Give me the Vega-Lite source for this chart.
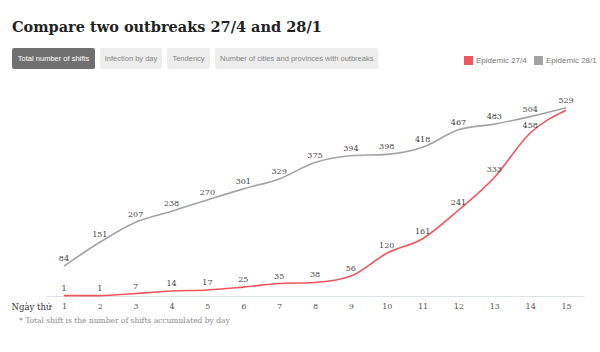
{
  "$schema": "https://vega.github.io/schema/vega-lite/v6.json",
  "background": "white",
  "padding": {"left": 11, "right": 10, "top": 19, "bottom": 10},
  "title": {
    "text": "Compare two outbreaks 27/4 and 28/1",
    "anchor": "start",
    "frame": "group",
    "dx": -34,
    "font": "DejaVu Serif",
    "fontSize": 14.5,
    "fontWeight": "bold",
    "color": "#222222",
    "offset": 13
  },
  "config": {
    "view": {"stroke": null},
    "concat": {"spacing": 27}
  },
  "vconcat": [
    {
      "width": 371,
      "height": 21,
      "data": {
        "values": [
          {"order": 1, "tab": "Total number of shifts", "active": true},
          {"order": 2, "tab": "Infection by day", "active": false},
          {"order": 3, "tab": "Tendency", "active": false},
          {"order": 4, "tab": "Number of cities and provinces with outbreaks", "active": false}
        ]
      },
      "transform": [
        {"calculate": "max(length(datum.tab) * 3.5 + 11, 48)", "as": "w"},
        {"window": [{"op": "sum", "field": "w", "as": "cum"}], "sort": [{"field": "order", "order": "ascending"}], "groupby": [], "frame": [null, 0]},
        {"calculate": "datum.cum - datum.w", "as": "s"},
        {"calculate": "datum.cum - 5", "as": "e"},
        {"calculate": "(datum.s + datum.e) / 2", "as": "m"}
      ],
      "layer": [
        {
          "mark": {"type": "rect", "cornerRadius": 2},
          "encoding": {
            "x": {"field": "s", "type": "quantitative", "scale": {"domain": [34, 405], "nice": false, "zero": false}, "axis": null},
            "x2": {"field": "e"},
            "color": {"condition": {"test": "datum.active", "value": "#707070"}, "value": "#ededed"}
          }
        },
        {
          "mark": {"type": "text", "font": "Liberation Sans", "fontSize": 7.5, "align": "center", "baseline": "middle"},
          "encoding": {
            "x": {"field": "m", "type": "quantitative", "axis": null},
            "text": {"field": "tab", "type": "nominal"},
            "color": {"condition": {"test": "datum.active", "value": "#ffffff"}, "value": "#858585"}
          }
        }
      ]
    },
    {
      "width": 538,
      "height": 200,
      "title": {
        "text": "* Total shift is the number of shifts accumulated by day",
        "orient": "bottom",
        "anchor": "start",
        "frame": "group",
        "dx": -27,
        "offset": 6,
        "font": "DejaVu Serif",
        "fontSize": 7.5,
        "fontWeight": "normal",
        "color": "#8a8a8a"
      },
      "data": {
        "values": [
          {"day": 1, "series": "Epidemic 27/4", "value": 1},
          {"day": 2, "series": "Epidemic 27/4", "value": 1},
          {"day": 3, "series": "Epidemic 27/4", "value": 7},
          {"day": 4, "series": "Epidemic 27/4", "value": 14},
          {"day": 5, "series": "Epidemic 27/4", "value": 17},
          {"day": 6, "series": "Epidemic 27/4", "value": 25},
          {"day": 7, "series": "Epidemic 27/4", "value": 35},
          {"day": 8, "series": "Epidemic 27/4", "value": 38},
          {"day": 9, "series": "Epidemic 27/4", "value": 56},
          {"day": 10, "series": "Epidemic 27/4", "value": 120},
          {"day": 11, "series": "Epidemic 27/4", "value": 161},
          {"day": 12, "series": "Epidemic 27/4", "value": 241},
          {"day": 13, "series": "Epidemic 27/4", "value": 333},
          {"day": 14, "series": "Epidemic 27/4", "value": 458},
          {"day": 15, "series": "Epidemic 27/4", "value": 522},
          {"day": 1, "series": "Epidemic 28/1", "value": 84},
          {"day": 2, "series": "Epidemic 28/1", "value": 151},
          {"day": 3, "series": "Epidemic 28/1", "value": 207},
          {"day": 4, "series": "Epidemic 28/1", "value": 238},
          {"day": 5, "series": "Epidemic 28/1", "value": 270},
          {"day": 6, "series": "Epidemic 28/1", "value": 301},
          {"day": 7, "series": "Epidemic 28/1", "value": 329},
          {"day": 8, "series": "Epidemic 28/1", "value": 375},
          {"day": 9, "series": "Epidemic 28/1", "value": 394},
          {"day": 10, "series": "Epidemic 28/1", "value": 398},
          {"day": 11, "series": "Epidemic 28/1", "value": 418},
          {"day": 12, "series": "Epidemic 28/1", "value": 467},
          {"day": 13, "series": "Epidemic 28/1", "value": 483},
          {"day": 14, "series": "Epidemic 28/1", "value": 504},
          {"day": 15, "series": "Epidemic 28/1", "value": 529}
        ]
      },
      "layer": [
        {
          "mark": {"type": "line", "interpolate": "monotone", "strokeWidth": 1.6},
          "encoding": {
            "x": {
              "field": "day",
              "type": "quantitative",
              "scale": {"domain": [0.5, 15.5], "nice": false, "zero": false},
              "axis": {
                "values": [1, 2, 3, 4, 5, 6, 7, 8, 9, 10, 11, 12, 13, 14, 15],
                "domain": true,
                "domainColor": "#dbe3ec",
                "domainWidth": 1,
                "ticks": false,
                "grid": false,
                "labelFont": "DejaVu Serif",
                "labelFontSize": 8,
                "labelColor": "#555555",
                "labelPadding": 6,
                "labelFlush": false,
                "labelOverlap": false,
                "labelBound": false,
                "labelSeparation": 0,
                "title": "Ngày thứ",
                "titleFont": "DejaVu Serif",
                "titleFontSize": 8.5,
                "titleFontWeight": "normal",
                "titleColor": "#333333",
                "titleX": -15,
                "titleY": 10,
                "titleAlign": "center",
                "titleBaseline": "middle"
              }
            },
            "y": {"field": "value", "type": "quantitative", "scale": {"domain": [0, 562], "nice": false}, "axis": null},
            "color": {
              "field": "series",
              "type": "nominal",
              "scale": {"domain": ["Epidemic 27/4", "Epidemic 28/1"], "range": ["#f0545c", "#a3a3a3"]},
              "legend": {
                "title": null,
                "orient": "none",
                "direction": "horizontal",
                "legendX": 418,
                "legendY": 8,
                "symbolType": "square",
                "symbolSize": 81,
                "symbolStrokeWidth": 0,
                "labelFont": "Liberation Sans",
                "labelFontSize": 8,
                "labelColor": "#777777",
                "labelOffset": 3,
                "columnPadding": 7,
                "encode": {
                  "symbols": {"update": {"fill": {"scale": "color", "field": "value"}, "stroke": {"value": "transparent"}}}
                }
              }
            }
          }
        },
        {
          "transform": [{"filter": "datum.day < 15 || datum.series == 'Epidemic 28/1'"}],
          "mark": {"type": "text", "font": "DejaVu Serif", "fontSize": 8, "color": "#444444", "baseline": "middle", "align": "center", "dy": -7},
          "encoding": {
            "x": {
              "field": "day",
              "type": "quantitative",
              "axis": {
                "values": [1, 2, 3, 4, 5, 6, 7, 8, 9, 10, 11, 12, 13, 14, 15],
                "domain": true,
                "domainColor": "#dbe3ec",
                "domainWidth": 1,
                "ticks": false,
                "grid": false,
                "labelFont": "DejaVu Serif",
                "labelFontSize": 8,
                "labelColor": "#555555",
                "labelPadding": 6,
                "labelFlush": false,
                "labelOverlap": false,
                "labelBound": false,
                "labelSeparation": 0,
                "title": "Ngày thứ",
                "titleFont": "DejaVu Serif",
                "titleFontSize": 8.5,
                "titleFontWeight": "normal",
                "titleColor": "#333333",
                "titleX": -15,
                "titleY": 10,
                "titleAlign": "center",
                "titleBaseline": "middle"
              }
            },
            "y": {"field": "value", "type": "quantitative", "axis": null},
            "text": {"field": "value", "type": "quantitative"}
          }
        }
      ]
    }
  ]
}
